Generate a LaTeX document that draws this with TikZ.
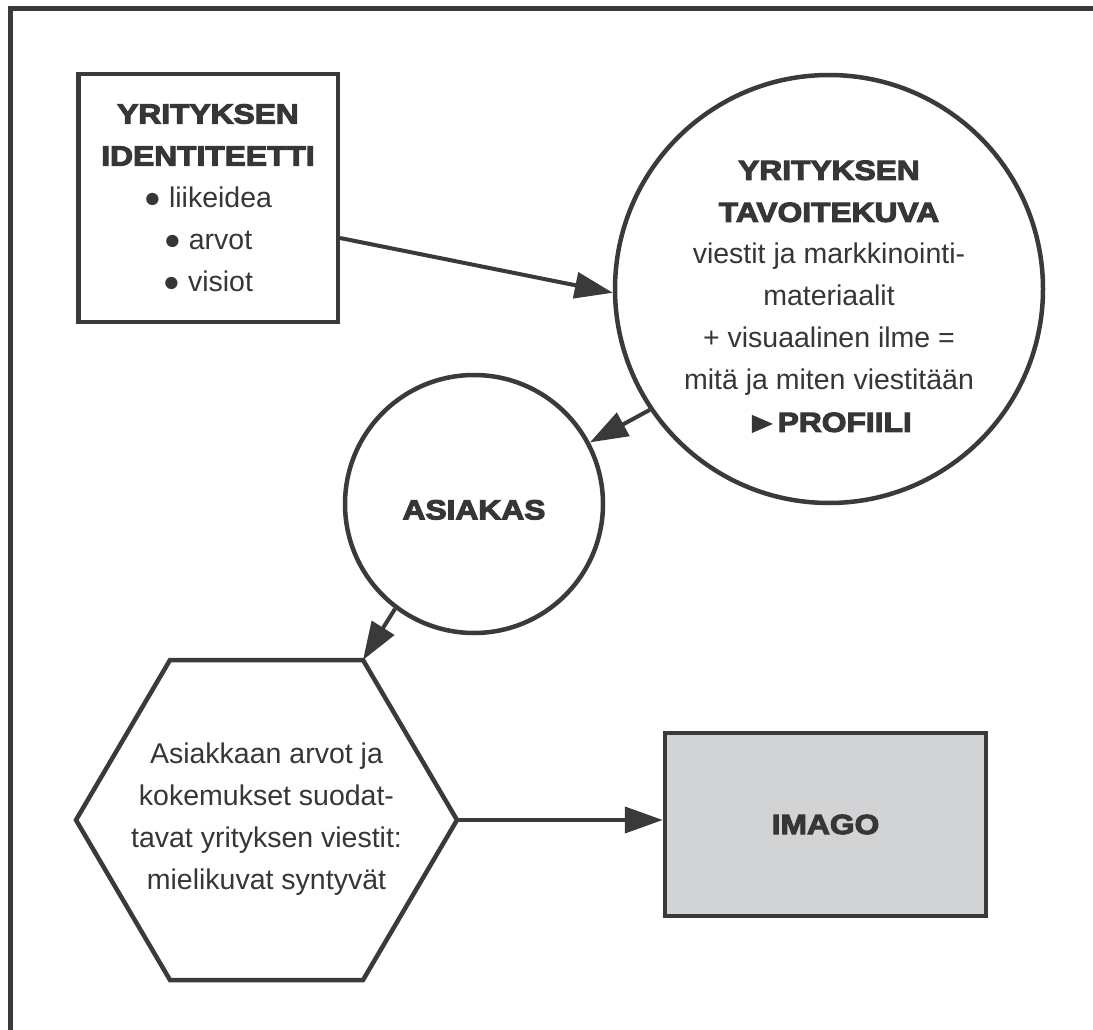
\documentclass[tikz,border=0pt]{standalone}
\usepackage{fontspec}
\usetikzlibrary{arrows.meta,calc}
\newfontfamily\regfont{Liberation Sans}
\newfontfamily\heavyfont{Liberation Sans}[UprightFont={* Bold},FakeStretch=1.15,FakeBold=4]
\definecolor{linegray}{HTML}{3A3A3A}
\definecolor{textgray}{HTML}{363636}
\definecolor{imagofill}{HTML}{D2D3D5}
\newcommand{\hvy}{\heavyfont\fontsize{27.6}{42}\selectfont}
\newcommand{\rgl}{\regfont\fontsize{28.5}{42}\selectfont}
\begin{document}
\begin{tikzpicture}[x=1pt,y=-1pt,
  txt/.style={text=textgray,font=\rgl,align=center,inner sep=0pt},
  shapeline/.style={draw=linegray,line width=4.5pt},
  boxst/.style={txt,shapeline,shape=rectangle},
  circst/.style={txt,shapeline,shape=circle},
  conn/.style={draw=linegray,line width=4pt,-{Triangle[length=38pt,width=26pt]}},
  framest/.style={draw=linegray,line width=5pt}]
\useasboundingbox (0,0) rectangle (1093,1030);
\clip (0,0) rectangle (1093,1030);
\fill[white] (0,0) rectangle (1093,1030);
\draw[framest] (10,8.5) rectangle (1300,1300);

\node[boxst,minimum width=259.5pt,minimum height=247.5pt] (ident) at (208,198) {\hvy YRITYKSEN\\\hvy IDENTITEETTI\\\rgl ● liikeidea\\● arvot\\● visiot};

\node[circst,minimum size=428pt] (tav) at (829,289) {\hvy\rule{0pt}{34pt}YRITYKSEN\\\hvy TAVOITEKUVA\\\rgl viestit ja markkinointi-\\materiaalit\\+ visuaalinen ilme =\\mitä ja miten viestitään\\\hvy ►PROFIILI};

\node[circst,minimum size=258pt] (asi) at (474,504) {\hvy\rule{0pt}{31pt}ASIAKAS};

\coordinate (h1) at (170,660);
\coordinate (h2) at (363,660);
\coordinate (h3) at (457,820);
\coordinate (h4) at (363,980);
\coordinate (h5) at (170,980);
\coordinate (h6) at (76,820);
\draw[shapeline] (h1) -- (h2) -- (h3) -- (h4) -- (h5) -- (h6) -- cycle;
\node[txt] (hex) at (266.5,819) {Asiakkaan arvot ja\\kokemukset suodat-\\tavat yrityksen viestit:\\mielikuvat syntyvät};

\node[boxst,fill=imagofill,minimum width=321pt,minimum height=183pt] (imago) at (825.5,824.5) {\hvy IMAGO};

\draw[conn] ($(ident.east)+(0,40)$) -- (tav.181);
\draw[conn] (tav.214) -- (asi.28);
\draw[conn] (asi.233) -- (h2);
\draw[conn] (h3) -- (h3 -| imago.west);
\end{tikzpicture}
\end{document}
